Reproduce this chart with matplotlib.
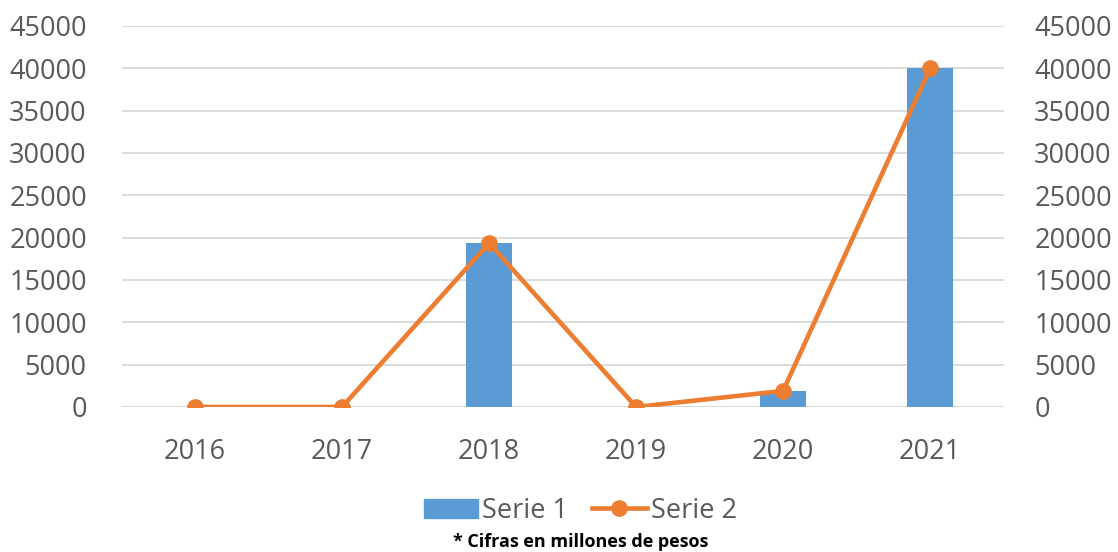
import matplotlib
matplotlib.use('Agg')
import matplotlib.pyplot as plt
import numpy as np
from matplotlib.lines import Line2D
from matplotlib.patches import Patch

years = ['2016', '2017', '2018', '2019', '2020', '2021']
serie1 = [0, 0, 19350, 0, 1900, 40000]
serie2 = [0, 0, 19350, 0, 1900, 40000]
yticks = list(range(0, 45001, 5000))

plt.rcParams['font.family'] = ['Open Sans', 'DejaVu Sans']

blue = '#5B9BD5'
orange = '#ED7D31'
grey = '#595959'

fig = plt.figure(figsize=(11.18, 5.52), dpi=100)
ax = fig.add_axes([0.1087, 0.2627, 0.789, 0.6903])
ax2 = ax.twinx()

x = np.arange(len(years))
ax.bar(x, serie1, width=0.31, color=blue, zorder=2)
ax2.plot(x, serie2, color=orange, lw=3.3, marker='o', ms=11, zorder=3,
         solid_capstyle='round')

for a in (ax, ax2):
  a.set_ylim(0, 45000)
  a.set_yticks(yticks)
  a.set_xlim(-0.5, len(years) - 0.5)
  for s in a.spines.values():
    s.set_visible(False)
  a.tick_params(axis='y', length=0, labelsize=19.5, labelcolor=grey)
ax.tick_params(axis='y', pad=25)
ax2.tick_params(axis='y', pad=22)

ax.set_xticks(x)
ax.set_xticklabels(years)
ax.tick_params(axis='x', length=0, pad=22, labelsize=19.5, labelcolor=grey)
ax.yaxis.grid(True, color='#D9D9D9', lw=1.3, zorder=0)
ax.set_axisbelow(True)
ax.axhline(0, color='#D9D9D9', lw=1.3, zorder=1)

handles = [Patch(color=blue, label='Serie 1'),
           Line2D([0], [0], color=orange, lw=3.3, marker='o', ms=11, label='Serie 2')]
leg = fig.legend(handles=handles, loc='center', bbox_to_anchor=(0.519, 0.075), ncol=2,
                 frameon=False, fontsize=19.5, handlelength=2.0, handleheight=0.7,
                 handletextpad=0.15, columnspacing=0.9)
for t in leg.get_texts():
  t.set_color(grey)

fig.text(0.519, 0.018, '* Cifras en millones de pesos', ha='center', va='center',
         fontsize=13, fontweight='bold', color='black')

fig.savefig('out.png', dpi=100)
